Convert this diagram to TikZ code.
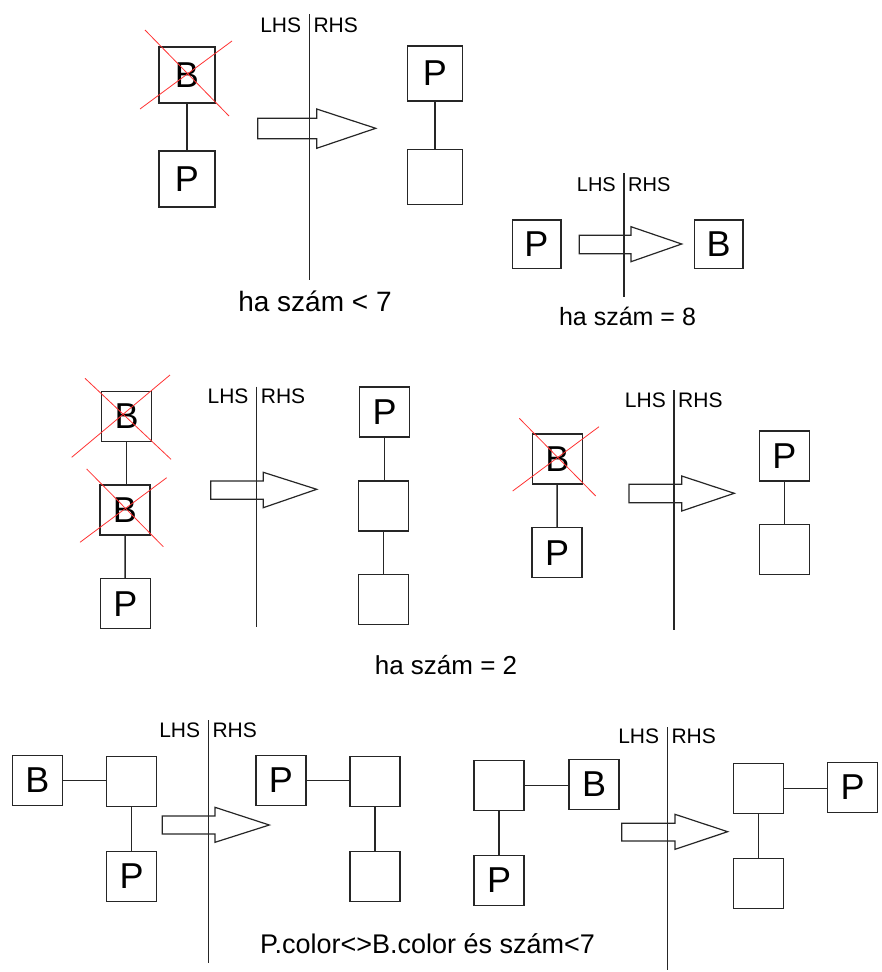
\documentclass[tikz,border=0pt]{standalone}
\usepackage{fontspec}
\setmainfont{Liberation Sans}
\begin{document}
\begin{tikzpicture}[x=1pt,y=-1pt,
  box/.style={draw=black!85, line width=1.5pt, minimum size=#1, inner sep=0pt, font=\fontsize{36}{36}\selectfont},
  box/.default=50,
  link/.style={draw=black!85, line width=1.5pt},
  sepline/.style={draw=black!85, line width=1.5pt},
  cross/.style={draw=red!80, line width=0.8pt},
  rulearrow/.style={draw=black!85, line width=1.2pt},
  lhs/.style={anchor=east, inner sep=0pt, font=\fontsize{21}{21}\selectfont},
  rhs/.style={anchor=west, inner sep=0pt, font=\fontsize{21}{21}\selectfont},
  caption/.style={inner sep=0pt, font=\fontsize{#1}{#1}\selectfont}]
\useasboundingbox (0,0) rectangle (881,972);

% ---------- panel 1 ----------
\node[box=56] (b1) at (187,75) {B};
\node[box=56] (p1) at (187,179) {P};
\draw[link] (b1) -- (p1);
\draw[cross] (140,109) -- (232,41);
\draw[cross] (145,30) -- (229,116);
\coordinate (v1t) at (309.3,14); \coordinate (v1b) at (309.3,280);
\draw[sepline] (v1t) -- (v1b);
\node[lhs] (l1) at (301.3,25) {LHS};
\node[rhs] (h1) at (313.3,25) {RHS};
\draw[rulearrow] (257.7,118.3) -- (316.7,118.3) -- (316.7,109) -- (375.7,128.3) -- (316.7,148.3) -- (316.7,138.7) -- (257.7,138.7) -- cycle;
\node[box=55] (r1a) at (435,73.3) {P};
\node[box=55] (r1b) at (435,177) {};
\draw[link] (r1a) -- (r1b);
\node[caption=28] (c1) at (315,301) {ha szám < 7};

% ---------- panel 2 ----------
\node[box=48.5] (p2) at (536.5,244.2) {P};
\node[box=48.5] (b2) at (718.5,244.2) {B};
\coordinate (v2t) at (624,173.3); \coordinate (v2b) at (624,296.7);
\draw[sepline] (v2t) -- (v2b);
\node[lhs, font=\fontsize{20}{20}\selectfont] (l2) at (616,185) {LHS};
\node[rhs, font=\fontsize{20}{20}\selectfont] (h2) at (628,185) {RHS};
\draw[rulearrow] (579.3,235.3) -- (631,235.3) -- (631,226.7) -- (681.7,244) -- (631,261.7) -- (631,253.7) -- (579.3,253.7) -- cycle;
\node[caption=25] (c2) at (627.5,316.7) {ha szám = 8};

% ---------- panel 3 ----------
\node[box] (b3a) at (126.7,416.3) {B};
\node[box] (b3b) at (125,510) {B};
\node[box] (p3) at (125.3,603.7) {P};
\draw[link] (b3a.south) -- (b3a.south |- b3b.north);
\draw[link] (b3b) -- (p3);
\draw[cross] (71.7,457.3) -- (170,375);
\draw[cross] (85,378.3) -- (171,459.3);
\draw[cross] (80,542.3) -- (166.7,477.7);
\draw[cross] (86.7,469) -- (163.3,546.7);
\coordinate (v3t) at (256.7,386.7); \coordinate (v3b) at (256.7,627.3);
\draw[sepline] (v3t) -- (v3b);
\node[lhs] (l3) at (248.7,396.7) {LHS};
\node[rhs] (h3) at (260.7,396.7) {RHS};
\draw[rulearrow] (210.7,481) -- (263.3,481) -- (263.3,472.3) -- (316.7,489.3) -- (263.3,507.7) -- (263.3,499.3) -- (210.7,499.3) -- cycle;
\node[box] (r3a) at (384.7,412) {P};
\node[box] (r3b) at (383.3,505.8) {};
\node[box] (r3c) at (383.3,599.3) {};
\draw[link] (r3a.south) -- (r3a.south |- r3b.north);
\draw[link] (r3b) -- (r3c);

% ---------- panel 4 ----------
\node[box] (b4) at (557.3,459) {B};
\node[box] (p4) at (557,552.7) {P};
\draw[link] (b4) -- (p4);
\draw[cross] (512.7,491) -- (599,426.7);
\draw[cross] (519.3,418.3) -- (595.7,496);
\coordinate (v4t) at (674,390); \coordinate (v4b) at (674,630);
\draw[sepline] (v4t) -- (v4b);
\node[lhs] (l4) at (666,400) {LHS};
\node[rhs] (h4) at (678,400) {RHS};
\draw[rulearrow] (629,484.3) -- (681.7,484.3) -- (681.7,476) -- (734.3,493.3) -- (681.7,511) -- (681.7,502.7) -- (629,502.7) -- cycle;
\node[box] (r4a) at (784.3,456) {P};
\node[box] (r4b) at (784.3,549.7) {};
\draw[link] (r4a) -- (r4b);

\node[caption=26] (c3) at (446,665) {ha szám = 2};

% ---------- panel 5 ----------
\node[box] (b5) at (37.5,780.5) {B};
\node[box] (e5) at (131.7,781.7) {};
\node[box] (p5) at (131.7,876.3) {P};
\draw[link] (b5.east) -- (b5.east -| e5.west);
\draw[link] (e5) -- (p5);
\coordinate (v5t) at (208.3,720); \coordinate (v5b) at (208.3,963.3);
\draw[sepline] (v5t) -- (v5b);
\node[lhs] (l5) at (200.3,730) {LHS};
\node[rhs] (h5) at (212.3,730) {RHS};
\draw[rulearrow] (162.3,816) -- (215,816) -- (215,807.3) -- (269.3,825) -- (215,842.3) -- (215,834) -- (162.3,834) -- cycle;
\node[box] (r5p) at (281,780.5) {P};
\node[box] (r5e) at (375,781.7) {};
\node[box] (r5f) at (375,876.3) {};
\draw[link] (r5p.east) -- (r5p.east -| r5e.west);
\draw[link] (r5e) -- (r5f);

% ---------- panel 6 ----------
\node[box] (e6) at (499.2,785.7) {};
\node[box] (b6) at (594,784.5) {B};
\node[box] (p6) at (499.2,880.3) {P};
\draw[link] (e6.east) -- (e6.east -| b6.west);
\draw[link] (e6) -- (p6);
\coordinate (v6t) at (667.3,727.3); \coordinate (v6b) at (667.3,970);
\draw[sepline] (v6t) -- (v6b);
\node[lhs] (l6) at (659.3,736.7) {LHS};
\node[rhs] (h6) at (671.3,736.7) {RHS};
\draw[rulearrow] (621.7,823.3) -- (675,823.3) -- (675,814.3) -- (727.7,831.7) -- (675,849.3) -- (675,841) -- (621.7,841) -- cycle;
\node[box] (r6e) at (758.3,788.7) {};
\node[box] (r6p) at (852.7,787.5) {P};
\node[box] (r6f) at (758.3,883.3) {};
\draw[link] (r6e.east) -- (r6e.east -| r6p.west);
\draw[link] (r6e) -- (r6f);

\node[caption=27] (c4) at (427.5,943.3) {P.color<>B.color és szám<7};
\end{tikzpicture}
\end{document}
